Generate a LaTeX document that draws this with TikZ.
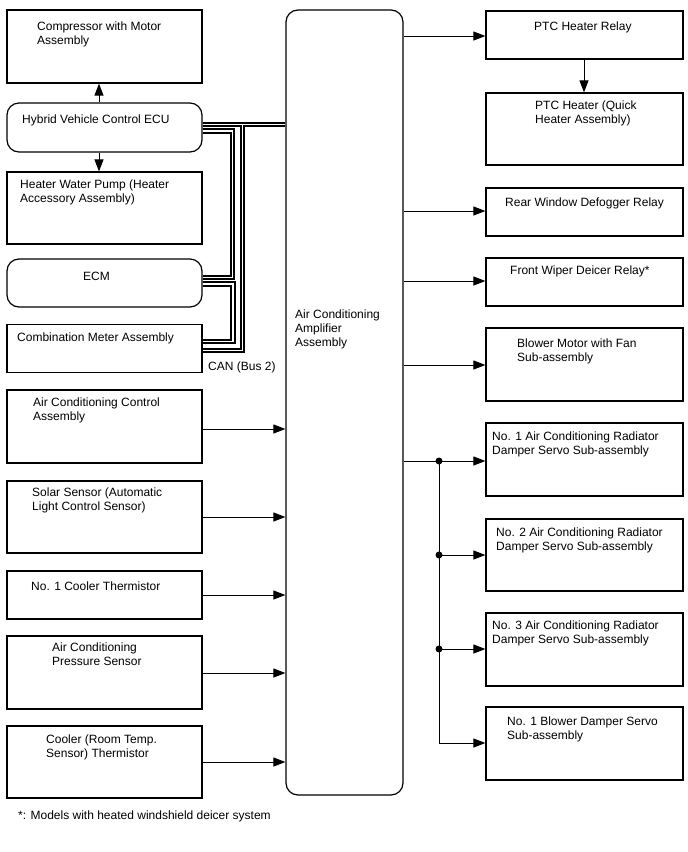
\documentclass[tikz,border=0pt]{standalone}
\usepackage{fontspec}
\setmainfont{Liberation Sans}
\usetikzlibrary{arrows.meta}
\begin{document}
\begin{tikzpicture}[x=1pt,y=-1pt,
  box/.style={draw,line width=1.2pt,inner sep=0pt},
  lbox/.style={box,minimum width=195pt},
  rbx/.style={box,minimum width=197pt},
  rnd/.style={rounded corners=12pt},
  txt/.style={anchor=north west,inner sep=0pt,align=left,font=\fontsize{12}{14}\selectfont},
  arr/.style={line width=1pt,-{Triangle[length=12pt,width=9pt]}},
  ln/.style={line width=1pt},
  busb/.style={line width=5.4pt,black},
  busw/.style={line width=1.5pt,white},
  dot/.style={circle,fill=black,inner sep=0pt,minimum size=7pt}
]
\useasboundingbox (0,0) rectangle (688,852);

% left column
\node[lbox,minimum height=73pt] (comp) at (104.5,46.5) {};
\node[lbox,rnd,minimum height=49pt] (hv) at (104.5,127.5) {};
\node[lbox,minimum height=72pt] (hwp) at (104.5,208) {};
\node[lbox,rnd,minimum height=48pt] (ecm) at (104.5,283) {};
\node[lbox,minimum height=48pt] (cm) at (104.5,348.5) {};
\node[lbox,minimum height=73pt] (acc) at (104.5,426.5) {};
\node[lbox,minimum height=72pt] (solar) at (104.5,517) {};
\node[lbox,minimum height=48pt] (cool) at (104.5,595) {};
\node[lbox,minimum height=73pt] (press) at (104.5,672.5) {};
\node[lbox,minimum height=72pt] (room) at (104.5,762) {};

% amplifier
\node[box,rnd,minimum width=117pt,minimum height=785pt] (amp) at (344.5,402.5) {};

% right column
\node[rbx,minimum height=48pt] (ptcr) at (584.5,35) {};
\node[rbx,minimum height=72pt] (ptch) at (584.5,129) {};
\node[rbx,minimum height=48pt] (rwd) at (584.5,212) {};
\node[rbx,minimum height=48pt] (fwd) at (584.5,282) {};
\node[rbx,minimum height=73pt] (blow) at (584.5,364.5) {};
\node[rbx,minimum height=73pt] (d1) at (584.5,459.5) {};
\node[rbx,minimum height=72pt] (d2) at (584.5,555) {};
\node[rbx,minimum height=73pt] (d3) at (584.5,649.5) {};
\node[rbx,minimum height=73pt] (bd) at (584.5,743.5) {};

% texts
\node[txt] (tcomp) at (37,21.6) {Compressor with Motor\\Assembly};
\node[txt] (thv) at (22,114.6) {Hybrid Vehicle Control ECU};
\node[txt] (thwp) at (20,179.6) {Heater Water Pump (Heater\\Accessory Assembly)};
\node[txt] (tecm) at (83,271.6) {ECM};
\node[txt] (tcm) at (17,332.6) {Combination Meter Assembly};
\node[txt] (tcan) at (208,361.6) {CAN (Bus 2)};
\node[txt] (tacc) at (33,397.6) {Air Conditioning Control\\Assembly};
\node[txt] (tsolar) at (32,487.6) {Solar Sensor (Automatic\\Light Control Sensor)};
\node[txt] (tcool) at (31,581.6) {No. 1 Cooler Thermistor};
\node[txt] (tpress) at (52,642.6) {Air Conditioning\\Pressure Sensor};
\node[txt] (troom) at (46,734.6) {Cooler (Room Temp.\\Sensor) Thermistor};
\node[txt] (tamp) at (295,309.6) {Air Conditioning\\Amplifier\\Assembly};
\node[txt] (tptcr) at (534,21.6) {PTC Heater Relay};
\node[txt] (tptch) at (535,100.6) {PTC Heater (Quick\\Heater Assembly)};
\node[txt] (trwd) at (505,197.6) {Rear Window Defogger Relay};
\node[txt] (tfwd) at (510,265.6) {Front Wiper Deicer Relay*};
\node[txt] (tblow) at (517,338.6) {Blower Motor with Fan\\Sub-assembly};
\node[txt] (td1) at (492,431.6) {No. 1 Air Conditioning Radiator\\Damper Servo Sub-assembly};
\node[txt] (td2) at (496,527.6) {No. 2 Air Conditioning Radiator\\Damper Servo Sub-assembly};
\node[txt] (td3) at (492,620.6) {No. 3 Air Conditioning Radiator\\Damper Servo Sub-assembly};
\node[txt] (tbd) at (507,716.6) {No. 1 Blower Damper Servo\\Sub-assembly};
\node[txt] (tnote) at (18,810.6) {*: Models with heated windshield deicer system};

% arrows left column
\draw[arr] (hv.north -| 99,0) -- (comp.south -| 99,0);
\draw[arr] (hv.south -| 99,0) -- (hwp.north -| 99,0);
\draw[arr] (acc.east |- 0,429) -- (amp.west |- 0,429);
\draw[arr] (solar.east |- 0,517) -- (amp.west |- 0,517);
\draw[arr] (cool.east |- 0,595) -- (amp.west |- 0,595);
\draw[arr] (press.east |- 0,673) -- (amp.west |- 0,673);
\draw[arr] (room.east |- 0,762) -- (amp.west |- 0,762);

% arrows right column
\draw[arr] (amp.east |- 0,36) -- (ptcr.west |- 0,36);
\draw[arr] (ptcr.south -| 584,0) -- (ptch.north -| 584,0);
\draw[arr] (amp.east |- 0,211) -- (rwd.west |- 0,211);
\draw[arr] (amp.east |- 0,281) -- (fwd.west |- 0,281);
\draw[arr] (amp.east |- 0,365) -- (blow.west |- 0,365);
\coordinate (j1) at (439,461);
\coordinate (j2) at (439,555);
\coordinate (j3) at (439,649);
\coordinate (j4) at (439,743);
\draw[arr] (amp.east |- j1) -- (d1.west |- j1);
\draw[ln] (j1) -- (j4);
\draw[arr] (j2) -- (d2.west |- j2);
\draw[arr] (j3) -- (d3.west |- j3);
\draw[arr] (j4) -- (bd.west |- j4);
\node[dot] at (j1) {};
\node[dot] at (j2) {};
\node[dot] at (j3) {};

% CAN bus
\coordinate (t1) at (242.5,124.5);
\foreach \s in {busb,busw}{
  \draw[\s] (hv.east |- 0,124.5) -- (amp.west |- 0,124.5);
  \draw[\s] (hv.east |- 0,131) -- (232.5,131) -- (232.5,277.5) -- (ecm.east |- 0,277.5);
  \draw[\s] (ecm.east |- 0,284) -- (233,284) -- (233,341.5) -- (cm.east |- 0,341.5);
  \draw[\s] (t1) -- (242.5,350.5) -- (cm.east |- 0,350.5);
}
\end{tikzpicture}
\end{document}
